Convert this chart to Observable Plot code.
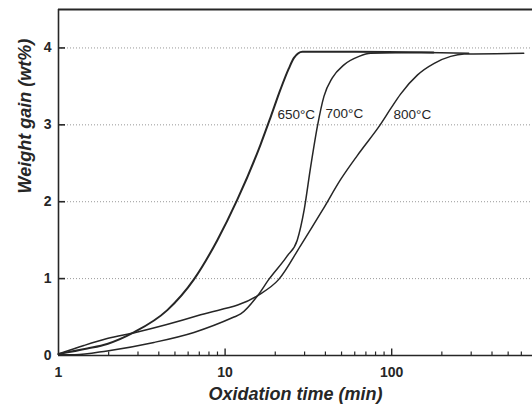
<!DOCTYPE html>
<html>
<head>
<meta charset="utf-8">
<script src="https://cdn.jsdelivr.net/npm/d3@7"></script>
<script src="https://cdn.jsdelivr.net/npm/@observablehq/plot@0.6"></script>
<style>
  html, body { margin: 0; padding: 0; background: #ffffff; }
  #chart { width: 532px; height: 410px; }
</style>
</head>
<body>
<div id="chart"></div>
<script>
// ---- data ----
const t650 = [1, 1.49, 1.96, 2.83, 4.5, 6.5, 8.98, 11.8, 16.3, 18.9, 21.5, 24.1, 25.9, 29.1, 60, 178];
const w650 = [0.02, 0.09, 0.15, 0.30, 0.59, 0.99, 1.50, 2.02, 2.74, 3.12, 3.46, 3.73, 3.87, 3.95, 3.95, 3.94];

const t700 = [1, 1.25, 1.96, 3.74, 6.5, 11.3, 12.4, 15.7, 18.3, 23.5, 27.1, 29.8, 32.6, 35.8, 39.2, 44, 51.7, 63.7, 74.8, 150, 290];
const w700 = [0.01, 0.01, 0.06, 0.17, 0.30, 0.50, 0.54, 0.78, 0.99, 1.29, 1.50, 1.89, 2.45, 2.98, 3.37, 3.61, 3.78, 3.89, 3.93, 3.94, 3.93];

const t800 = [1, 1.42, 1.96, 2.9, 7.13, 15.7, 21, 28.4, 38.4, 49.4, 65.1, 84, 98.6, 113, 143, 180, 226, 272, 620];
const w800 = [0.02, 0.13, 0.22, 0.30, 0.53, 0.78, 0.99, 1.43, 1.89, 2.29, 2.66, 2.98, 3.21, 3.40, 3.65, 3.80, 3.89, 3.92, 3.93];

const labelNames = ["650°C", "700°C", "800°C"];
const labelTimes = [20.6, 40.1, 102.6];
const labelWeights = [3.13, 3.14, 3.13];

const xMajorTicks = [1, 10, 100];
const xMinorTicks = [2, 3, 4, 5, 6, 7, 8, 9, 20, 30, 40, 50, 60, 70, 80, 90, 200, 300, 400, 500, 600];
const yTicks = [0, 1, 2, 3, 4];
const gridLevels = [1, 2, 3, 4];
const xDomain = [1, 700];
const yDomain = [0, 4.5];

const xTitle = "Oxidation time (min)";
const yTitle = "Weight gain (wt%)";

// ---- build tables ----
const toRows = (ts, ws) => ts.map((t, i) => ({t, w: ws[i]}));
const s650 = toRows(t650, w650);
const s700 = toRows(t700, w700);
const s800 = toRows(t800, w800);
const labels = labelNames.map((name, i) => ({name, t: labelTimes[i], w: labelWeights[i]}));

const ink = "#262626";
const font = "'Liberation Sans', Arial, Helvetica, sans-serif";
const plotH = 410 - 9 - 55;
const plotW = 532 - 58 - 0;

const chart = Plot.plot({
  width: 532,
  height: 410,
  marginLeft: 58,
  marginRight: 0,
  marginTop: 9,
  marginBottom: 55,
  style: {fontFamily: font, background: "#ffffff", color: ink, overflow: "visible"},
  x: {type: "log", domain: xDomain},
  y: {domain: yDomain},
  marks: [
    Plot.ruleY(gridLevels, {y: d => d, stroke: "#8c8c8c", strokeWidth: 0.9, strokeDasharray: "1,2"}),
    Plot.line(s800, {x: "t", y: "w", stroke: ink, strokeWidth: 1.5, curve: "monotone-x"}),
    Plot.line(s700, {x: "t", y: "w", stroke: ink, strokeWidth: 1.5, curve: "monotone-x"}),
    Plot.line(s650, {x: "t", y: "w", stroke: ink, strokeWidth: 2, curve: "monotone-x"}),
    Plot.text(labels, {x: "t", y: "w", text: "name", textAnchor: "start", fontSize: 13.5, fill: ink}),
    // frame lines
    Plot.ruleY([yDomain[0]], {y: d => d, stroke: ink, strokeWidth: 1.6}),
    Plot.ruleY([yDomain[1]], {y: d => d, stroke: ink, strokeWidth: 2.2}),
    Plot.ruleX([xDomain[0]], {x: d => d, stroke: ink, strokeWidth: 1.6}),
    // inward ticks
    Plot.tickX(xMinorTicks, {x: d => d, insetTop: plotH - 3.5, stroke: ink, strokeWidth: 1.2}),
    Plot.tickX(xMajorTicks.slice(1), {x: d => d, insetTop: plotH - 6.5, stroke: ink, strokeWidth: 1.4}),
    Plot.tickY(yTicks.slice(1), {y: d => d, insetRight: plotW - 7, stroke: ink, strokeWidth: 1.6}),
    // tick labels
    Plot.axisX(xMajorTicks, {tickSize: 0, tickPadding: 12, fontSize: 14, fontWeight: "bold", tickFormat: d => String(d), label: null, fill: ink}),
    Plot.axisY(yTicks, {tickSize: 0, tickPadding: 7, fontSize: 14, fontWeight: "bold", tickFormat: d => String(d), label: null, fill: ink}),
    // axis titles
    Plot.text([xTitle], {frameAnchor: "bottom", dy: 44, fontSize: 18, fontWeight: "bold", fontStyle: "italic", fill: ink}),
    Plot.text([yTitle], {frameAnchor: "left", rotate: -90, dx: -33, dy: 11, fontSize: 18, fontWeight: "bold", fontStyle: "italic", fill: ink})
  ]
});
document.getElementById("chart").append(chart);
</script>
</body>
</html>
